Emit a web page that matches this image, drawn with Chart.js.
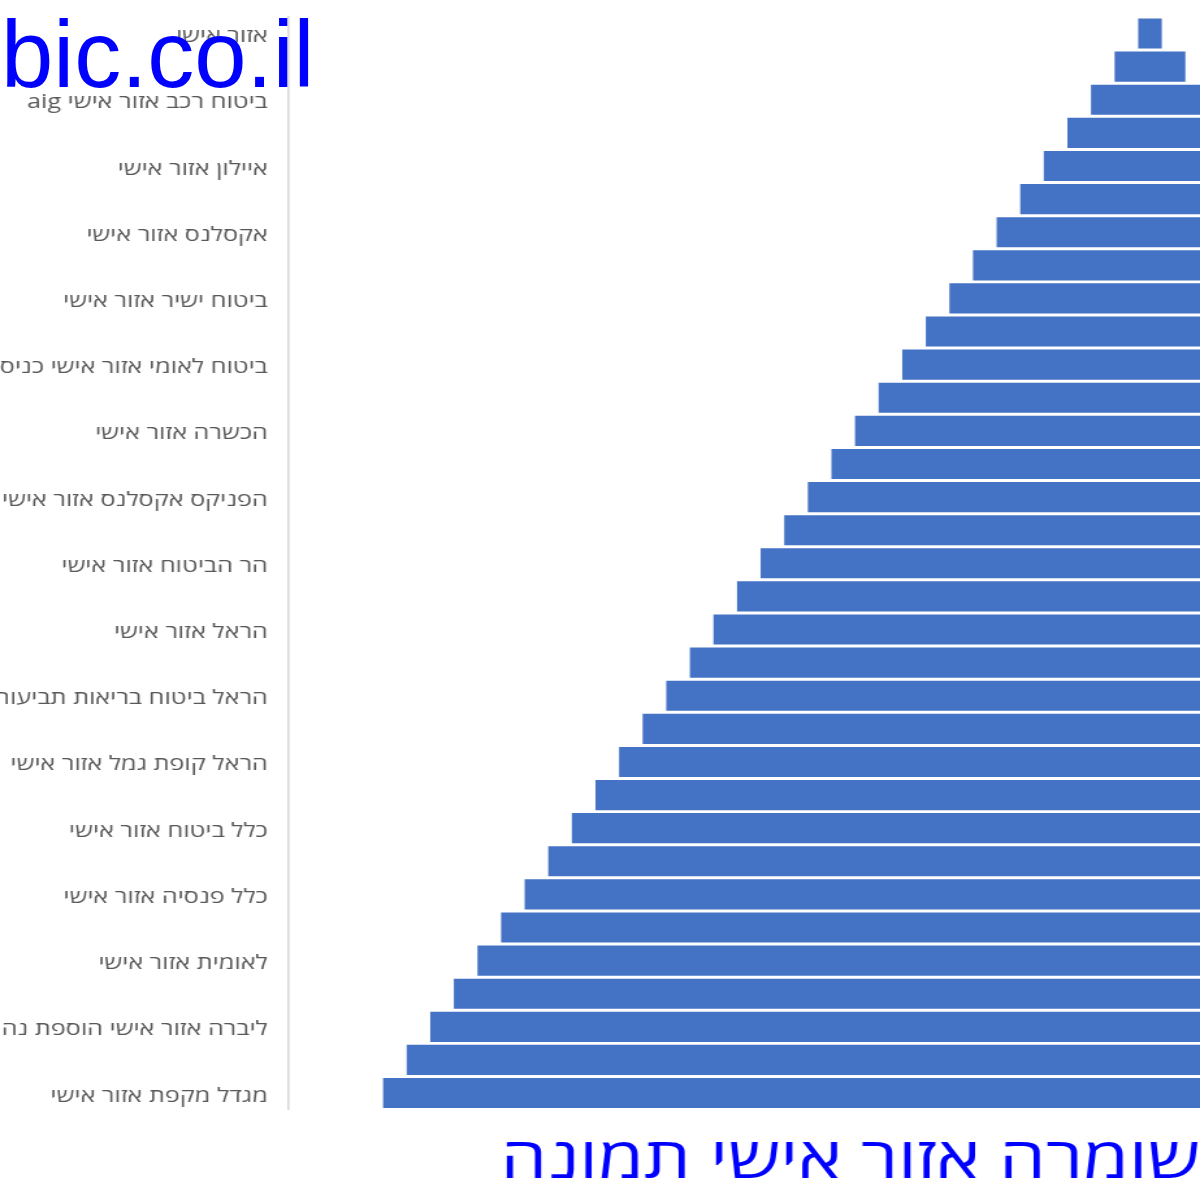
<!DOCTYPE html>
<html lang="he">
<head>
<meta charset="utf-8">
<title>שומרה אזור אישי תמונה</title>
<script src="https://cdn.jsdelivr.net/npm/chart.js@4.4.1/dist/chart.umd.min.js"></script>
<style>
  html, body { margin: 0; padding: 0; background: #ffffff; overflow: hidden; }
  #wrap { width: 1200px; height: 1200px; position: relative; }
  #wrap canvas { position: absolute; left: 0; top: 0; }
  #mark { pointer-events: none; }
</style>
</head>
<body>
<div id="wrap">
  <!-- o gráfico é desenhado mais estreito e esticado na horizontal, como na imagem original -->
  <canvas id="chart" width="923" height="1200" style="width:1200px;height:1200px"></canvas>
  <canvas id="mark" width="1200" height="1200"></canvas>
</div>
<script>
// --------- DADOS ----------
const categories = [
  "אזור אישי",
  "aig אזור אישי",
  "aig ביטוח רכב אזור אישי",
  "אלטשולר שחם אזור אישי",
  "איילון אזור אישי",
  "אנליסט אזור אישי",
  "אקסלנס אזור אישי",
  "ביטוח חקלאי אזור אישי",
  "ביטוח ישיר אזור אישי",
  "ביטוח לאומי אזור אישי",
  "ביטוח לאומי אזור אישי כניסה",
  "דקלה אזור אישי",
  "הכשרה אזור אישי",
  "הפניקס אזור אישי",
  "הפניקס אקסלנס אזור אישי",
  "הפניקס ביטוח אזור אישי",
  "הר הביטוח אזור אישי",
  "הראל אזור אישי ביטוח",
  "הראל אזור אישי",
  "הראל ביטוח אזור אישי",
  "הראל ביטוח בריאות תביעות",
  "הראל גמל אזור אישי",
  "הראל קופת גמל אזור אישי",
  "ילין לפידות אזור אישי",
  "כלל ביטוח אזור אישי",
  "כלל גמל אזור אישי",
  "כלל פנסיה אזור אישי",
  "כלל פנסיה התחברות",
  "לאומית אזור אישי",
  "ליברה אזור אישי",
  "ליברה אזור אישי הוספת נהג",
  "מגדל אזור אישי",
  "מגדל מקפת אזור אישי"
];

const values = [1, 3, 5, 7, 9, 11, 13, 15, 17, 19, 21, 23, 25, 27, 29, 31, 33,
                35, 37, 39, 41, 43, 45, 47, 49, 51, 53, 55, 57, 59, 61, 63, 65];

const chartTitle = "שומרה אזור אישי תמונה";
const watermark = "bic.co.il";
const barColor = "#4472c4";

// barras centradas (funil), cortadas pela borda direita
const xMin = -36.53;
const xMax = 2.12;

// --------- MARCA D'ÁGUA (sem esticar) ----------
const mctx = document.getElementById("mark").getContext("2d");
mctx.font = "94px 'Liberation Sans', Arial, sans-serif";
mctx.fillStyle = "#0000ff";
mctx.textBaseline = "alphabetic";
mctx.fillText(watermark, 1, 87);

// --------- GRÁFICO ----------
const ctx = document.getElementById("chart").getContext("2d");

new Chart(ctx, {
  type: "bar",
  data: {
    labels: categories,
    datasets: [{
      data: values.map(v => [-v / 2, v / 2]),
      backgroundColor: barColor,
      borderWidth: 0,
      barPercentage: 0.91,
      categoryPercentage: 1.0
    }]
  },
  options: {
    indexAxis: "y",
    responsive: false,
    animation: false,
    devicePixelRatio: 1,
    layout: { padding: { top: 17, left: 0, right: 0, bottom: 0 } },
    plugins: {
      legend: { display: false },
      tooltip: { enabled: false },
      title: {
        display: true,
        text: chartTitle,
        position: "bottom",
        align: "end",
        color: "#0000ff",
        font: { family: "'Open Sans', sans-serif", size: 57, weight: "normal" },
        padding: { top: 18, bottom: 4 }
      }
    },
    scales: {
      x: {
        display: false,
        min: xMin,
        max: xMax
      },
      y: {
        afterFit(scale){
          scale.width = 221.5;
          scale.paddingTop = 0;
          scale.paddingBottom = 0;
        },
        grid: { display: false, drawTicks: false },
        border: { display: true, color: "#d9d9d9", width: 1.6 },
        ticks: {
          color: "#595959",
          padding: 15.5,
          labelOffset: 3,
          autoSkip: false,
          font: { family: "'Open Sans', sans-serif", size: 19.4 },
          callback: function(value, index){
            return index % 2 === 0 ? this.getLabelForValue(value) : "";
          }
        }
      }
    }
  }
});
</script>
</body>
</html>
